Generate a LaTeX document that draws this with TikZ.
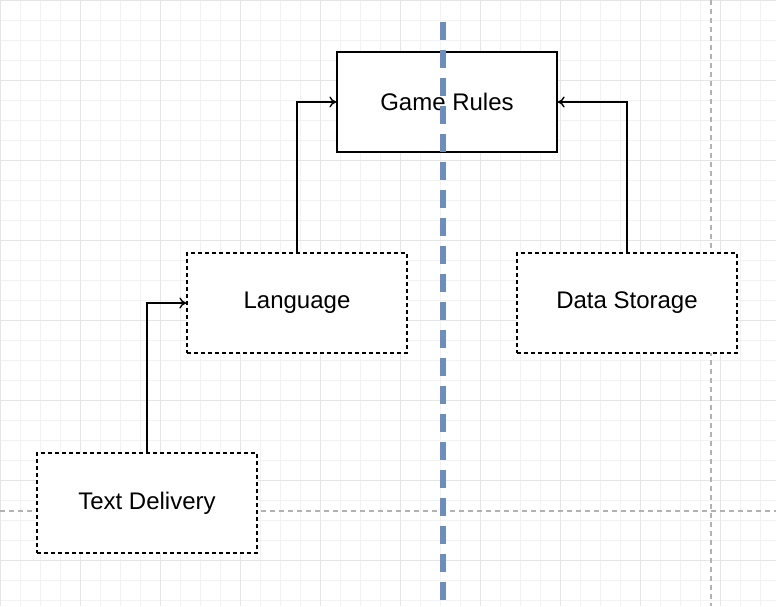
\documentclass[tikz,border=0pt]{standalone}
\usepackage{fontspec}
\setmainfont{Liberation Sans}
\usetikzlibrary{arrows.meta}
\begin{document}
\begin{tikzpicture}[x=1pt,y=-1pt,
  box/.style={draw=black,fill=white,minimum width=220pt,minimum height=100pt,inner sep=0pt,font=\fontsize{24}{28}\selectfont,line width=1.3pt},
  dbox/.style={box,dash pattern=on 4pt off 3pt},
  conn/.style={line width=1.4pt,-{To[length=7pt,width=11pt]}}]
\useasboundingbox (0,0) rectangle (776,606);
\fill[white] (0,0) rectangle (776,606);
\foreach \x in {0,20,...,776} \draw[black!5,line width=0.5pt] (\x,0) -- (\x,606);
\foreach \y in {0,20,...,606} \draw[black!5,line width=0.5pt] (0,\y) -- (776,\y);
\foreach \x in {0,80,...,776} \draw[black!10,line width=0.6pt] (\x,0) -- (\x,606);
\foreach \y in {0,80,...,606} \draw[black!10,line width=0.6pt] (0,\y) -- (776,\y);
\draw[black!30,line width=1.2pt,dash pattern=on 5pt off 4pt] (711,0) -- (711,606);
\draw[black!30,line width=1.2pt,dash pattern=on 5pt off 4pt] (0,511) -- (776,511);
\node[box] (rules) at (447,102) {Game Rules};
\node[dbox] (lang) at (297,303) {Language};
\node[dbox] (data) at (627,303) {Data Storage};
\node[dbox] (text) at (147,503) {Text Delivery};
\draw[conn] (lang.north) |- (rules.west);
\draw[conn] (data.north) |- (rules.east);
\draw[conn] (text.north) |- (lang.west);
\coordinate (b1) at (443,22);
\coordinate (b2) at (443,606);
\draw[color={rgb,255:red,108;green,142;blue,191},line width=6pt,dash pattern=on 18pt off 10pt] (b1) -- (b2);
\end{tikzpicture}
\end{document}
